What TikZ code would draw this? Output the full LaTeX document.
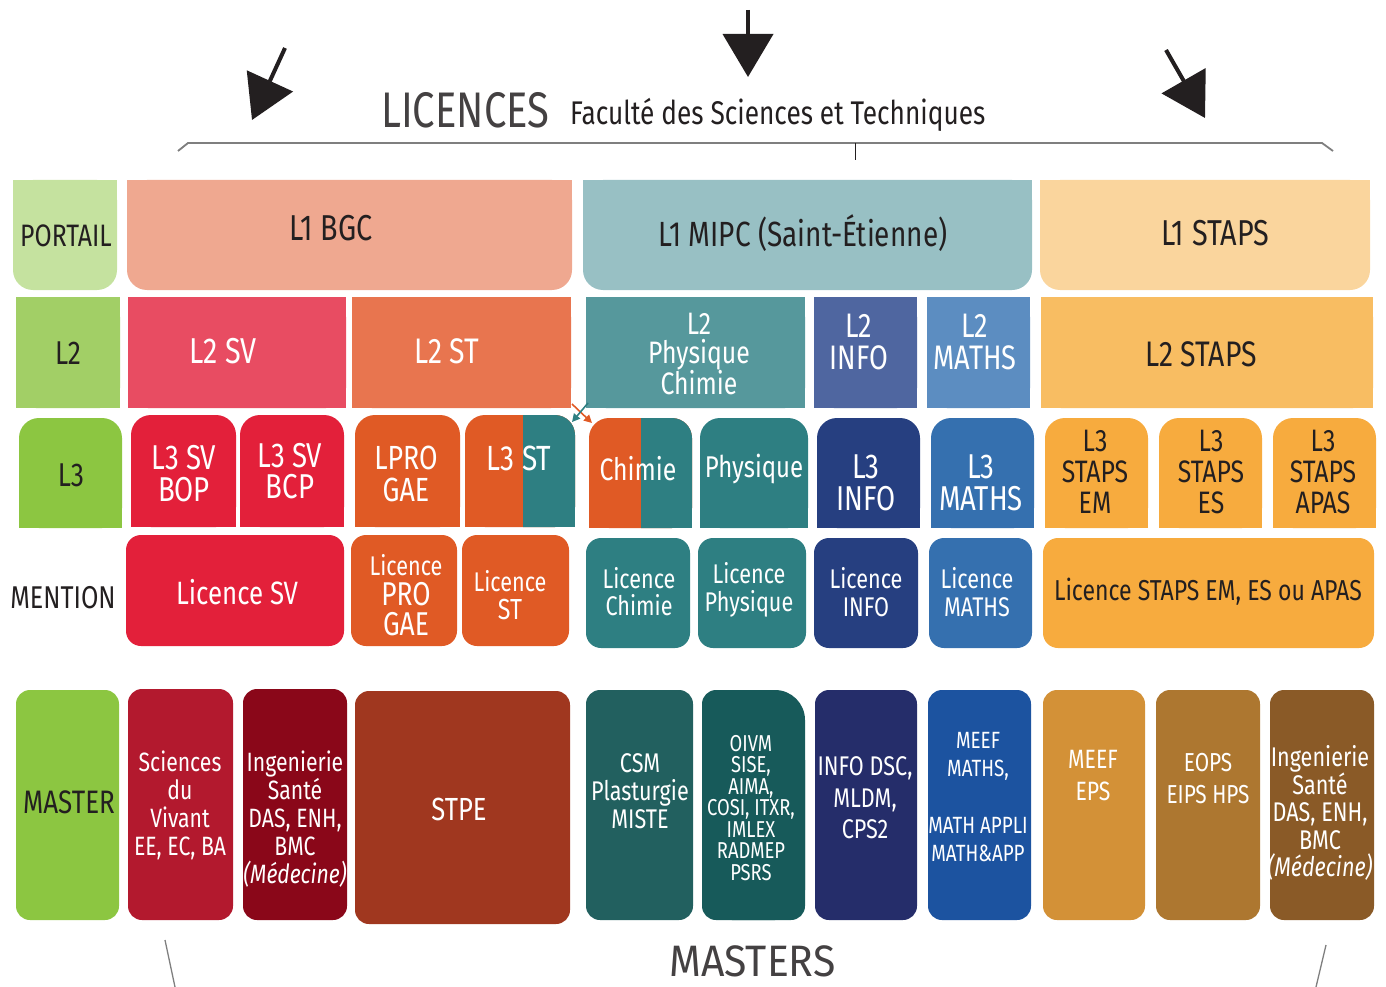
\documentclass[tikz,border=0pt]{standalone}
\usepackage{fontspec}
\setmainfont{Fira Sans}[FakeStretch=0.8]
\newfontfamily\widefont{Fira Sans}[FakeStretch=0.93]
\usetikzlibrary{arrows.meta}

\definecolor{ink}{HTML}{231F20}
\definecolor{greenA}{HTML}{C5E29F}
\definecolor{greenB}{HTML}{A2CF66}
\definecolor{greenC}{HTML}{8CC641}
\definecolor{salmon}{HTML}{EFA890}
\definecolor{mipc}{HTML}{98C0C4}
\definecolor{stapsA}{HTML}{FAD59D}
\definecolor{svB}{HTML}{E84C62}
\definecolor{stB}{HTML}{E8754F}
\definecolor{pcB}{HTML}{56989C}
\definecolor{infoB}{HTML}{4F66A0}
\definecolor{mathB}{HTML}{5C8DC1}
\definecolor{stapsB}{HTML}{F8BD62}
\definecolor{redC}{HTML}{E3203A}
\definecolor{orangeC}{HTML}{E05A25}
\definecolor{tealC}{HTML}{2E7F82}
\definecolor{navyC}{HTML}{263F80}
\definecolor{blueC}{HTML}{3570AF}
\definecolor{stapsC}{HTML}{F7AB3E}
\definecolor{mSV}{HTML}{B3192E}
\definecolor{mIS}{HTML}{8A0719}
\definecolor{mSTPE}{HTML}{A0371F}
\definecolor{mCSM}{HTML}{22605F}
\definecolor{mOIVM}{HTML}{175A5A}
\definecolor{mINFO}{HTML}{252D6A}
\definecolor{mMATH}{HTML}{1C53A0}
\definecolor{mEPS}{HTML}{D39137}
\definecolor{mEOPS}{HTML}{AD7730}
\definecolor{mMED}{HTML}{8A5A27}
\definecolor{rule}{HTML}{7F7F7F}

\newcommand\fs[2]{\fontsize{#1}{#2}\selectfont}
\def\rr{16pt}
% box fill: x1 y1 x2 y2 mode colour
% mode 0: all corners rounded, 1: bottom rounded, 2: top rounded, 3: square
\newcommand{\blkfill}[6]{%
  \fill[#6,rounded corners=\rr] (#1,#2) rectangle (#3,#4);
  \ifcase#5\relax
  \or\fill[#6] (#1,#2) rectangle (#3,{(#2+#4)/2});
  \or\fill[#6] (#1,{(#2+#4)/2}) rectangle (#3,#4);
  \or\fill[#6] (#1,#2) rectangle (#3,#4);
  \fi}

\tikzset{
  wt/.style={text=white, align=center, inner sep=0pt},
  bk/.style={text=ink, align=center, inner sep=0pt},
  bigarrow/.style={draw=ink, line width=4pt, -{Triangle[length=43pt,width=50pt]}},
  smallarrow/.style={line width=1.6pt, -{Triangle[length=8pt,width=8pt]}},
}

\begin{document}
\begin{tikzpicture}[x=1pt,y=-1pt]
\useasboundingbox (0,0) rectangle (1386,987);

% ---------- heading ----------
\coordinate (la0) at (285,48);  \coordinate (la1) at (252,120);
\coordinate (ma0) at (748,10);  \coordinate (ma1) at (748,77);
\coordinate (ra0) at (1166,50); \coordinate (ra1) at (1205,118);
\draw[bigarrow] (la0) -- (la1);
\draw[bigarrow] (ma0) -- (ma1);
\draw[bigarrow] (ra0) -- (ra1);

\node[bk, anchor=base west, font=\fs{50}{50}, text=ink!85] (lic) at (381,128) {LICENCES};
\node[bk, anchor=base west, font=\fs{32.8}{33}] (fst) at (570,125) {Faculté des Sciences et Techniques};

\draw[rule, line width=1.8pt] (178,151) -- (188,143) -- (1322,143) -- (1333,151);
\draw[ink, line width=1pt] (855,143) -- (855,160);

% ---------- PORTAIL / L1 ----------
\def\rr{20pt}
\blkfill{13}{180}{117}{290}{1}{greenA}
\node[bk, font=\fs{31}{31}] (portail) at (66,236) {PORTAIL};
\blkfill{127}{180}{572}{290}{1}{salmon}
\node[bk, font=\fs{36}{36}] (l1bgc) at (331,228) {L1 BGC};
\blkfill{583}{180}{1032}{290}{1}{mipc}
\node[bk, font=\fs{35}{35}] (l1mipc) at (803,233) {L1 MIPC (Saint-Étienne)};
\blkfill{1040}{180}{1370}{290}{1}{stapsA}
\node[bk, font=\fs{36}{36}] (l1staps) at (1215,233) {L1 STAPS};

% ---------- L2 ----------
\blkfill{16}{297}{120}{408}{3}{greenB}
\node[bk, font=\fs{33}{33}] (l2) at (68,353) {L2};
\blkfill{128}{297}{346}{408}{3}{svB}
\node[wt, font=\fs{36}{36}] (l2sv) at (223,351) {L2 SV};
\blkfill{352}{297}{571}{408}{3}{stB}
\node[wt, font=\fs{35.5}{36}] (l2st) at (447,351) {L2 ST};
\blkfill{586}{297}{805}{408}{3}{pcB}
\node[wt, font=\fs{31}{29}] (l2pc) at (699,354) {L2\\Physique\\Chimie};
\blkfill{814}{297}{917}{408}{3}{infoB}
\node[wt, font=\fs{34}{31.5}] (l2info) at (859,342) {L2\\INFO};
\blkfill{927}{297}{1030}{408}{3}{mathB}
\node[wt, font=\fs{34}{31.5}] (l2math) at (975,342) {L2\\MATHS};
\blkfill{1041}{297}{1373}{408}{3}{stapsB}
\node[bk, font=\fs{35.5}{36}] (l2staps) at (1201,354) {L2 STAPS};

% ---------- L3 ----------
\blkfill{19}{418}{122}{528}{2}{greenC}
\node[bk, font=\fs{33}{33}] (l3) at (71,475) {L3};
\blkfill{131}{415}{236}{527}{2}{redC}
\node[wt, font=\fs{34.5}{32}] (l3bop) at (184,474) {L3 SV\\BOP};
\blkfill{240}{415}{344}{527}{2}{redC}
\node[wt, font=\fs{34.5}{31.5}] (l3bcp) at (290,471) {L3 SV\\BCP};
\blkfill{355}{415}{460}{527}{2}{orangeC}
\node[wt, font=\fs{33.5}{32}] (lpro) at (406,474) {LPRO\\GAE};
% L3 ST: orange / teal split
\blkfill{465}{415}{575}{527}{2}{orangeC}
\begin{scope}
  \clip (523,405) rectangle (585,535);
  \blkfill{465}{415}{575}{527}{2}{tealC}
\end{scope}
\node[wt, font=\fs{35}{35}] (l3st) at (519,458) {L3 ST};
% Chimie: orange / teal split
\blkfill{589}{418}{692}{528}{2}{orangeC}
\begin{scope}
  \clip (641,405) rectangle (700,535);
  \blkfill{589}{418}{692}{528}{2}{tealC}
\end{scope}
\node[wt, font=\fs{31}{31}] (l3chim) at (638,469) {Chimie};
\blkfill{700}{418}{808}{528}{2}{tealC}
\node[wt, font=\fs{30}{30}] (l3phys) at (754,469) {Physique};
\blkfill{817}{418}{920}{528}{2}{navyC}
\node[wt, font=\fs{34.5}{32}] (l3info) at (866,483) {L3\\INFO};
\blkfill{931}{418}{1034}{528}{2}{blueC}
\node[wt, font=\fs{34.5}{32}] (l3math) at (981,483) {L3\\MATHS};
\blkfill{1045}{418}{1148}{528}{2}{stapsC}
\node[bk, font=\fs{31}{31}] (l3em) at (1095,472) {L3\\STAPS\\EM};
\blkfill{1159}{418}{1262}{528}{2}{stapsC}
\node[bk, font=\fs{31}{31}] (l3es) at (1211,472) {L3\\STAPS\\ES};
\blkfill{1273}{418}{1376}{528}{2}{stapsC}
\node[bk, font=\fs{31}{31}] (l3apas) at (1323,472) {L3\\STAPS\\APAS};

% crossing links between the two sides
\coordinate (ta0) at (588,403); \coordinate (ta1) at (572,422);
\coordinate (oa0) at (572,404); \coordinate (oa1) at (592,423);
\draw[smallarrow, draw=orangeC, fill=orangeC] (oa0) -- (oa1);
\draw[smallarrow, draw=tealC, fill=tealC] (ta0) -- (ta1);

% ---------- MENTION ----------
\def\rr{15pt}
\node[bk, font=\fs{31.5}{31}] (mention) at (63,598) {MENTION};
\blkfill{126}{535}{344}{646}{0}{redC}
\node[wt, font=\fs{32.3}{32}] (licsv) at (237,592) {Licence SV};
\blkfill{351}{535}{457}{646}{0}{orangeC}
\node[wt, font=\fs{33}{30}] (licpro) at (406,595) {{\fs{27}{27}Licence}\\PRO\\GAE};
\blkfill{462}{535}{569}{646}{0}{orangeC}
\node[wt, font=\fs{27}{28}] (licst) at (510,595) {Licence\\{\fs{29}{29}ST}};
\blkfill{586}{538}{690}{648}{0}{tealC}
\node[wt, font=\fs{27}{27}] (licchim) at (639,592) {Licence\\Chimie};
\blkfill{698}{538}{806}{648}{0}{tealC}
\node[wt, font=\fs{27}{28}] (licphys) at (749,590) {Licence\\Physique};
\blkfill{814}{538}{918}{648}{0}{navyC}
\node[wt, font=\fs{27}{28}] (licinfo) at (866,592) {Licence\\INFO};
\blkfill{929}{538}{1032}{648}{0}{blueC}
\node[wt, font=\fs{27}{28}] (licmath) at (977,592) {Licence\\MATHS};
\blkfill{1043}{538}{1374}{648}{0}{stapsC}
\node[bk, font=\fs{28.8}{29}] (licstaps) at (1208,592) {Licence STAPS EM, ES ou APAS};

% ---------- MASTER ----------
\def\rr{14pt}
\blkfill{16}{690}{119}{920}{0}{greenC}
\node[bk, font=\fs{32.5}{32}] (master) at (69,802) {MASTER};
\blkfill{128}{689}{233}{920}{0}{mSV}
\node[wt, font=\fs{26.5}{28}] (msv) at (180,805) {Sciences\\du\\Vivant\\EE, EC, BA};
\blkfill{243}{689}{347}{920}{0}{mIS}
\node[wt, font=\fs{26.5}{28}] (mis) at (295,819) {Ingenierie\\Santé\\DAS, ENH,\\BMC\\\textit{(Médecine)}};
\blkfill{355}{691}{570}{924}{0}{mSTPE}
\node[wt, font=\fs{32}{32}] (mstpe) at (459,809) {STPE};
\blkfill{586}{690}{693}{920}{0}{mCSM}
\node[wt, font=\fs{27}{28}] (mcsm) at (640,791) {CSM\\Plasturgie\\MISTE};
% OIVM: larger radius on the top right corner
\fill[mOIVM, rounded corners=30pt] (702,690) rectangle (805,920);
\begin{scope}
  \clip (702,690) rectangle (770,920) (702,760) rectangle (805,920);
  \fill[mOIVM, rounded corners=14pt] (702,690) rectangle (805,920);
\end{scope}
\node[wt, font=\fs{23}{21.5}] (moivm) at (751,808) {OIVM\\SISE,\\AIMA,\\COSI, ITXR,\\IMLEX\\RADMEP\\PSRS};
\blkfill{815}{690}{917}{920}{0}{mINFO}
\node[wt, font=\fs{27}{31.5}] (minfo) at (865,798) {INFO DSC,\\MLDM,\\CPS2};
\blkfill{928}{690}{1031}{920}{0}{mMATH}
\node[wt, font=\fs{23.5}{28.3}] (mmath) at (978,797) {MEEF\\MATHS,\\\mbox{}\\MATH APPLI\\MATH\&APP};
\blkfill{1043}{690}{1145}{920}{0}{mEPS}
\node[wt, font=\fs{26.5}{32}] (meps) at (1093,776) {MEEF\\EPS};
\blkfill{1156}{690}{1260}{920}{0}{mEOPS}
\node[wt, font=\fs{26}{32}] (meops) at (1208,779) {EOPS\\EIPS HPS};
\blkfill{1270}{690}{1374}{920}{0}{mMED}
\node[wt, font=\fs{27}{27.5}] (mmed) at (1320,813) {Ingenierie\\Santé\\DAS, ENH,\\BMC\\\textit{(Médecine)}};

% ---------- footer ----------
\draw[rule, line width=1.3pt] (165,940) -- (175,987);
\draw[rule, line width=1.3pt] (1326,945) -- (1316,987);
\node[bk, anchor=base west, font=\widefont\fs{44}{44}, text=ink!85] (masters) at (669,976) {MASTERS};

\end{tikzpicture}
\end{document}
